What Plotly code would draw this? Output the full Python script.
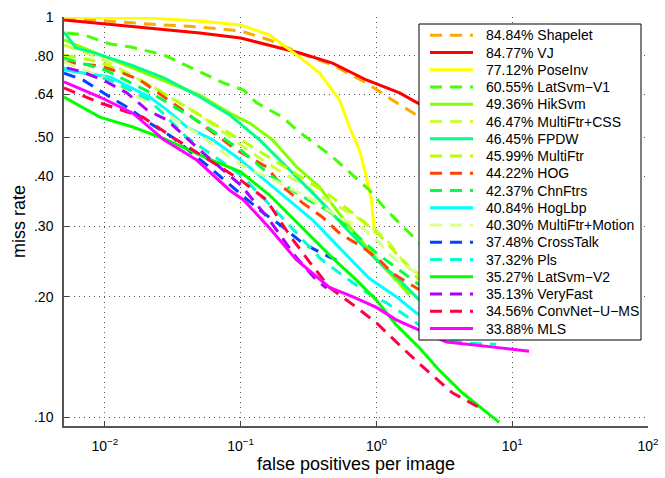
import plotly.graph_objects as go

# ---- data ----
methods = ["Shapelet", "VJ", "PoseInv", "LatSvm\u2212V1", "HikSvm", "MultiFtr+CSS", "FPDW",
           "MultiFtr", "HOG", "ChnFtrs", "HogLbp", "MultiFtr+Motion", "CrossTalk", "Pls",
           "LatSvm\u2212V2", "VeryFast", "ConvNet\u2212U\u2212MS", "MLS"]
scores = [84.84, 84.77, 77.12, 60.55, 49.36, 46.47, 46.45, 45.99, 44.22, 42.37, 40.84,
          40.30, 37.48, 37.32, 35.27, 35.13, 34.56, 33.88]
colors = ["#FFAA00", "#FF0000", "#FFFF00", "#44FF00", "#88FF00", "#CCFF44", "#00FF88",
          "#BBFF00", "#FF4400", "#00FF44", "#00FFFF", "#DDFF88", "#0044FF", "#00FFCC",
          "#00FF00", "#AA00FF", "#FF0044", "#FF00FF"]
dashed = [True, False, False, True, False, True, False, True, True, True, False, True,
          True, True, False, True, True, False]

fppi_shapelet = [.005, .01, .0214, .05, .1, .163, .272, .475, .844, 1.31, 1.97, 3.44]
mr_shapelet = [.994, .977, .960, .944, .923, .876, .813, .759, .684, .620, .569, .522]

fppi_vj = [.005, .01, .0214, .05, .1, .163, .272, .475, .844, 1.48, 2.0, 3.44]
mr_vj = [.983, .960, .939, .912, .886, .851, .813, .767, .696, .646, .610, .569]

fppi_poseinv = [.005, .0214, .05, .1, .163, .229, .272, .381, .535, .633, .75, .844, .919, .967]
mr_poseinv = [1.0, .994, .977, .955, .902, .827, .794, .724, .620, .531, .465, .398, .349, .288]

fppi_latsvmv1 = [.00526, .00701, .01088, .01553, .0272, .0535, .075, .105, .131, .204, .258,
                 .475, .889, 1.185, 1.97, 2.90]
mr_latsvmv1 = [.912, .902, .856, .841, .804, .724, .684, .657, .610, .562, .522, .447, .369,
               .329, .277, .247]

fppi_hiksvm = [.005, .00919, .0214, .05, .083, .1165, .172, .258, .381, .508, .633, .889,
               1.185, 1.40, 1.75]
mr_hiksvm = [.876, .804, .716, .638, .575, .543, .493, .422, .376, .329, .299, .261, .233,
             .220, .202]

fppi_multiftrcss = [.005, .00919, .0214, .05, .1, .145, .229, .401, .633, .935, 1.25, 1.55, 2.07]
mr_multiftrcss = [.851, .790, .676, .569, .479, .439, .398, .355, .324, .299, .272, .247, .227]

fppi_fpdw = [.005, .00612, .00789, .01553, .0272, .0475, .083, .138, .229, .381, .633, 1.0,
             1.48, 2.07]
mr_fpdw = [.917, .837, .818, .759, .704, .638, .569, .493, .415, .349, .290, .247, .220, .196]

fppi_multiftr = [.005, .00919, .0214, .05, .1, .229, .429, .666, 1.052, 1.55, 2.07]
mr_multiftr = [.804, .772, .676, .569, .493, .415, .363, .324, .285, .247, .220]

fppi_hog = [.005, .00919, .01357, .01809, .0356, .0592, .0935, .155, .204, .286, .401, .535,
            .789, 1.052, 1.31, 2.07]
mr_hog = [.772, .754, .724, .696, .592, .522, .465, .422, .376, .343, .316, .288, .266, .247,
          .229, .208]

fppi_chnftrs = [.005, .01, .0214, .05, .1, .172, .258, .451, .713, 1.0, 1.48, 2.07]
mr_chnftrs = [.790, .737, .649, .546, .465, .398, .363, .326, .285, .257, .233, .214]

fppi_hoglbp = [.005, .01088, .0214, .0286, .0401, .0623, .1, .194, .338, .602, .889, 1.40,
               1.97, 2.90, 4.07]
mr_hoglbp = [.737, .708, .631, .586, .531, .493, .439, .363, .311, .254, .222, .200, .182,
             .170, .163]

fppi_multiftrmotion = [.005, .01088, .0254, .05, .1, .194, .338, .535, .789, 1.0, 1.31, 1.97, 2.90]
mr_multiftrmotion = [.772, .696, .586, .507, .427, .385, .349, .315, .297, .277, .251, .229, .208]

fppi_crosstalk = [.005, .00689, .01088, .01452, .0214, .0316, .0562, .0873, .138, .204, .286,
                  .451, .562]
mr_crosstalk = [.724, .696, .631, .596, .543, .500, .427, .376, .329, .299, .272, .251, .244]

fppi_pls = [.005, .01088, .0214, .0401, .0701, .1, .194, .381, .535, .844, 1.185, 1.55, 2.07,
            3.27, 4.83, 7.63]
mr_pls = [.746, .696, .620, .500, .439, .403, .320, .250, .229, .205, .193, .182, .170, .156,
          .153, .152]

fppi_latsvmv2 = [.005, .00919, .01607, .0286, .0562, .1, .163, .272, .451, .713, 1.0, 1.40,
                 2.07, 2.90, 4.29, 8.02]
mr_latsvmv2 = [.631, .562, .531, .493, .444, .410, .359, .302, .254, .220, .196, .170, .149,
               .131, .115, .097]

fppi_veryfast = [.00526, .00689, .01035, .01452, .0204, .0286, .05, .1, .163, .258, .362, .429]
mr_veryfast = [.746, .729, .688, .646, .586, .553, .465, .380, .311, .250, .220, .210]

fppi_convnet = [.005, .00919, .01903, .0338, .0667, .1, .155, .229, .322, .451, .713, 1.0,
                1.55, 2.07, 3.62, 6.22]
mr_convnet = [.665, .610, .562, .493, .427, .391, .349, .285, .244, .211, .188, .172, .149,
              .136, .115, .104]

fppi_mls = [.005, .00622, .00919, .01607, .0272, .0475, .083, .105, .163, .258, .451, .666,
            1.0, 1.40, 2.07, 3.27, 6.78, 13.3]
mr_mls = [.688, .668, .631, .575, .493, .439, .369, .349, .297, .247, .211, .200, .188, .175,
          .165, .154, .150, .146]

x_ticks = [0.01, 0.1, 1, 10, 100]
x_ticktext = ["10<sup>\u22122</sup>", "10<sup>\u22121</sup>", "10<sup>0</sup>",
              "10<sup>1</sup>", "10<sup>2</sup>"]
y_ticks = [0.10, 0.20, 0.30, 0.40, 0.50, 0.64, 0.80, 1.0]
y_ticktext = [".10", ".20", ".30", ".40", ".50", ".64", ".80", "1"]

curves = [
    (fppi_shapelet, mr_shapelet), (fppi_vj, mr_vj), (fppi_poseinv, mr_poseinv),
    (fppi_latsvmv1, mr_latsvmv1), (fppi_hiksvm, mr_hiksvm), (fppi_multiftrcss, mr_multiftrcss),
    (fppi_fpdw, mr_fpdw), (fppi_multiftr, mr_multiftr), (fppi_hog, mr_hog),
    (fppi_chnftrs, mr_chnftrs), (fppi_hoglbp, mr_hoglbp),
    (fppi_multiftrmotion, mr_multiftrmotion), (fppi_crosstalk, mr_crosstalk),
    (fppi_pls, mr_pls), (fppi_latsvmv2, mr_latsvmv2), (fppi_veryfast, mr_veryfast),
    (fppi_convnet, mr_convnet), (fppi_mls, mr_mls),
]

FONT = "Liberation Sans, Arial, Helvetica, sans-serif"
DASH = "12px,8px"
LW = 3

fig = go.Figure()
for (xs, ys), name, col, d in zip(curves, methods, colors, dashed):
    fig.add_trace(go.Scatter(x=xs, y=ys, mode="lines", name=name, showlegend=False,
                             line=dict(color=col, width=LW, dash=DASH if d else "solid")))

# ---- hand-drawn MATLAB-style legend ----
W, H = 665, 478
ML, MR, MT, MB = 64, 17, 17, 52
pw, ph = W - ML - MR, H - MT - MB


def px(x):
    return (x - ML) / pw


def py(y):
    return (H - MB - y) / ph


shapes = [dict(type="rect", xref="paper", yref="paper", x0=px(419), x1=px(641),
               y0=py(340), y1=py(24), line=dict(color="black", width=1),
               fillcolor="white", layer="above")]
annotations = []
row0, rowstep = 35.3, 17.25
for i, (name, sc, col, d) in enumerate(zip(methods, scores, colors, dashed)):
    yy = py(row0 + rowstep * i)
    shapes.append(dict(type="line", xref="paper", yref="paper", x0=px(430), x1=px(473),
                       y0=yy, y1=yy, layer="above",
                       line=dict(color=col, width=LW, dash=DASH if d else "solid")))
    annotations.append(dict(xref="paper", yref="paper", x=px(484), y=yy, xanchor="left",
                            yanchor="middle", showarrow=False, text=f"{sc:.2f}% {name}",
                            font=dict(family=FONT, size=14, color="black")))

fig.update_layout(
    template="none",
    width=W, height=H,
    margin=dict(l=ML, r=MR, t=MT, b=MB, pad=0),
    paper_bgcolor="white", plot_bgcolor="white",
    font=dict(family=FONT, size=14, color="black"),
    shapes=shapes, annotations=annotations,
    xaxis=dict(type="log", range=[-2.30103, 2], tickvals=x_ticks, ticktext=x_ticktext,
               automargin=False,
               showgrid=True, griddash="1px,4px", gridcolor="#555", gridwidth=1,
               showline=True, linecolor="#555", linewidth=1.5, mirror=False,
               ticks="inside", ticklen=5, tickcolor="#444", zeroline=False,
               tickfont=dict(size=14), ticklabelstandoff=6,
               title=dict(text="false positives per image", font=dict(size=18), standoff=3)),
    yaxis=dict(type="log", range=[-1.0223, 0], tickvals=y_ticks, ticktext=y_ticktext,
               automargin=False,
               showgrid=True, griddash="1px,4px", gridcolor="#555", gridwidth=1,
               showline=True, linecolor="#555", linewidth=1.5, mirror=False,
               ticks="inside", ticklen=5, tickcolor="#444", zeroline=False,
               tickfont=dict(size=14), ticklabelstandoff=6,
               title=dict(text="miss rate", font=dict(size=18), standoff=4)),
)

fig.write_html("out.html")
